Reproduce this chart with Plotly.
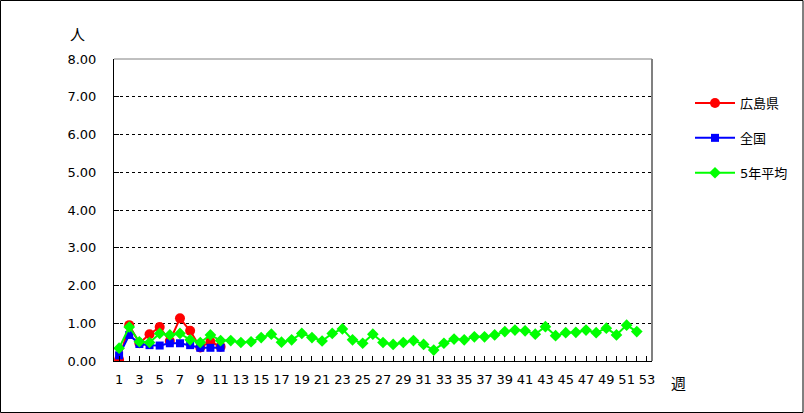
import plotly.graph_objects as go

weeks = list(range(1, 54))
hiroshima_weeks = list(range(1, 12))
hiroshima = [0.03, 0.95, 0.47, 0.71, 0.90, 0.53, 1.13, 0.80, 0.36, 0.51, 0.38]
zenkoku_weeks = list(range(1, 12))
zenkoku = [0.15, 0.69, 0.45, 0.42, 0.41, 0.47, 0.47, 0.42, 0.35, 0.35, 0.35]
avg_weeks = list(range(1, 53))
avg5 = [0.34, 0.90, 0.51, 0.49, 0.73, 0.69, 0.73, 0.56, 0.49, 0.69, 0.54, 0.54, 0.49,
        0.51, 0.62, 0.71, 0.50, 0.56, 0.73, 0.62, 0.53, 0.73, 0.85, 0.56, 0.47, 0.71,
        0.49, 0.44, 0.49, 0.54, 0.44, 0.29, 0.47, 0.58, 0.56, 0.64, 0.64, 0.69, 0.78,
        0.82, 0.80, 0.71, 0.91, 0.67, 0.75, 0.76, 0.82, 0.75, 0.87, 0.69, 0.95, 0.78]
x_ticktext = [str(w) if w % 2 == 1 else "" for w in weeks]
y_ticks = [0, 1, 2, 3, 4, 5, 6, 7, 8]

FONT = "DejaVu Sans, Noto Sans CJK JP, sans-serif"
W, H = 804, 413
L, R, T, B = 114, 152, 59, 52
pw, ph = W - L - R, H - T - B

fig = go.Figure()
fig.add_trace(go.Scatter(x=hiroshima_weeks, y=hiroshima, name="広島県", mode="lines+markers",
                         line=dict(color="#ff0000", width=2),
                         marker=dict(symbol="circle", size=10, color="#ff0000"),
                         legendgroup="a"))
fig.add_trace(go.Scatter(x=zenkoku_weeks, y=zenkoku, name="全国", mode="lines+markers",
                         line=dict(color="#0000ff", width=2),
                         marker=dict(symbol="square", size=8, color="#0000ff"),
                         legendgroup="b"))
fig.add_trace(go.Scatter(x=avg_weeks, y=avg5, name="5年平均", mode="lines+markers",
                         line=dict(color="#00ff00", width=2),
                         marker=dict(symbol="diamond", size=9, color="#00ff00"),
                         legendgroup="c"))

fig.update_layout(
    width=W, height=H,
    margin=dict(l=L, r=R, t=T, b=B, autoexpand=False),
    paper_bgcolor="white", plot_bgcolor="white",
    font=dict(family=FONT, size=13, color="black"),
    showlegend=True,
    legend=dict(x=(690 - L) / pw, y=(361 - 88) / ph, xanchor="left", yanchor="top",
                tracegroupgap=15, font=dict(size=13), itemwidth=40,
                bgcolor="rgba(0,0,0,0)"),
    xaxis=dict(range=[0.5, 53.5], tickmode="array", tickvals=weeks, ticktext=x_ticktext,
               ticks="inside", ticklen=5, tickcolor="black", showgrid=False,
               showline=True, linecolor="black", linewidth=1, zeroline=False,
               tickangle=0, tickfont=dict(size=13), ticklabelstandoff=6),
    yaxis=dict(range=[0, 8], tickmode="array", tickvals=y_ticks, tickformat=".2f",
               ticks="inside", ticklen=5, tickcolor="black",
               showgrid=True, gridcolor="black", griddash="dot", gridwidth=1,
               showline=True, linecolor="black", linewidth=1, zeroline=False,
               tickfont=dict(size=13), ticklabelstandoff=14),
    shapes=[
        dict(type="line", xref="paper", yref="paper", x0=1, x1=1, y0=0, y1=1,
             line=dict(color="#808080", width=2)),
        dict(type="line", xref="paper", yref="paper", x0=0, x1=1, y0=1, y1=1,
             line=dict(color="#808080", width=1)),
        dict(type="rect", xref="paper", yref="paper",
             x0=-L / pw + 0.5 / pw, x1=1 + (R - 1) / pw,
             y0=-B / ph + 0.5 / ph, y1=1 + (T - 0.5) / ph,
             line=dict(color="black", width=1)),
    ],
    annotations=[
        dict(text="人", xref="paper", yref="paper", x=(77 - L) / pw, y=1 + (59 - 33) / ph,
             xanchor="center", yanchor="middle",
             showarrow=False, font=dict(size=15, family="Noto Sans CJK JP")),
        dict(text="週", xref="paper", yref="paper", x=(678 - L) / pw, y=-(382 - 361) / ph,
             xanchor="center", yanchor="middle",
             showarrow=False, font=dict(size=15, family="Noto Sans CJK JP")),
    ],
)

fig.write_html("out.html", config={"displayModeBar": False},
               post_script="document.body.style.margin='0';document.body.style.overflow='hidden';")
